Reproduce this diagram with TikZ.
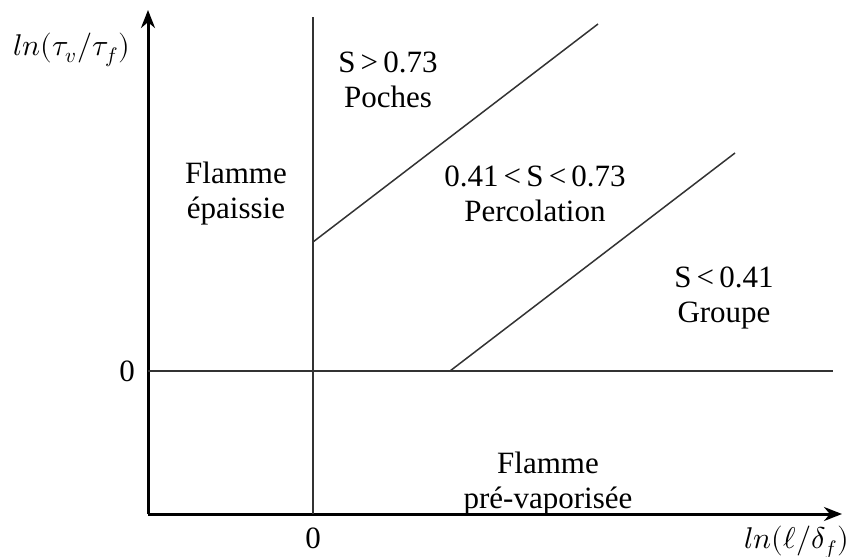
\documentclass[tikz,border=0pt]{standalone}
\usepackage{fontspec}
\setmainfont{Liberation Serif}
\usepackage{unicode-math}
\setmathfont{Latin Modern Math}
\usetikzlibrary{arrows.meta}
\tikzset{
  axis/.style={line width=1.5pt, -{Stealth[length=9pt,width=7pt]}},
  thin/.style={line width=0.75pt, black!80},
  lbl/.style={align=center, font=\fontsize{15.5}{17.5}\selectfont, inner sep=0pt},
  mlbl/.style={font=\fontsize{15}{18}\selectfont, inner sep=0pt},
}
\begin{document}
\begin{tikzpicture}[x=0.5pt,y=-0.5pt]
\useasboundingbox (0,0) rectangle (853,557);
% axes
\coordinate (O) at (148,514);
\coordinate (ytip) at (148,10);
\coordinate (xtip) at (842,514);
\draw[axis] (O) -- (ytip);
\draw[axis] (O) -- (xtip);
% zero lines
\coordinate (h0) at (148,371);
\coordinate (h1) at (833,371);
\coordinate (v0) at (313,514);
\coordinate (v1) at (313,17);
\draw[thin] (h0) -- (h1);
\draw[thin] (v0) -- (v1);
% boundaries
\coordinate (a0) at (313,242);
\coordinate (a1) at (598,24);
\coordinate (b0) at (450,371);
\coordinate (b1) at (735,153);
\draw[thin] (a0) -- (a1);
\draw[thin] (b0) -- (b1);
% axis labels
\node[mlbl] (ylab) at (72,50) {$ln(\tau_v/\tau_f)$};
\node[mlbl] (xlab) at (797,543) {$ln(\ell/\delta_f)$};
\node[lbl] (yz) at (127,371) {0};
\node[lbl] (xz) at (313,538) {0};
% regions
\node[lbl] (poches) at (388,80) {S\,>\,0.73\\Poches};
\node[lbl] (perc) at (535,194) {0.41\,<\,S\,<\,0.73\\Percolation};
\node[lbl] (groupe) at (724,298) {S\,<\,0.41\\Groupe};
\node[lbl] (epais) at (236,194) {Flamme\\épaissie};
\node[lbl] (prevap) at (548,484) {Flamme\\pré-vaporisée};
\end{tikzpicture}
\end{document}
